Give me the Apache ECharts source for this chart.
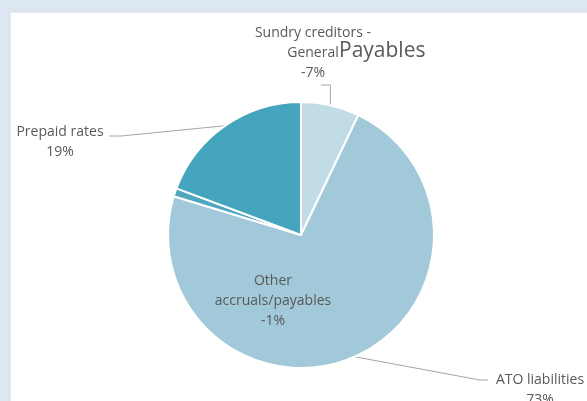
<!DOCTYPE html>
<html>
<head>
<meta charset="utf-8">
<script src="https://cdn.jsdelivr.net/npm/echarts@6/dist/echarts.min.js"></script>
<style>
html,body{margin:0;padding:0;background:#dde7f1;}
#c{width:587px;height:401px;}
</style>
</head>
<body>
<div id="c"></div>
<script>
// Data
const categories = ['Sundry creditors - General', 'ATO liabilities', 'Other accruals/payables', 'Prepaid rates'];
const labelNames = ['Sundry creditors -\nGeneral', 'ATO liabilities', 'Other\naccruals/payables', 'Prepaid rates'];
const values = [-7.1, 72.6, -1.0, 19.3];
const colors = ['#c2dce5', '#a2c9d9', '#4fa8c0', '#46a5be'];
const titleText = 'Payables';

const chart = echarts.init(document.getElementById('c'));
const FONT = '"Open Sans", "Noto Sans", sans-serif';
const TXT = '#595959';

// label placements (px) for each slice
const labelPos = [
  {x: 313, y: 53, line: [[null, 85], [321, 85]]},
  {x: 540, y: 390, line: [[480, 380], [488, 380]]},
  {x: 273, y: 301, line: null},
  {x: 60, y: 142, line: [[121, 136], [109, 136]]}
];

chart.setOption({
  backgroundColor: '#dde7f1',
  animation: false,
  graphic: [{
    type: 'rect', silent: true, z: -10,
    shape: {x: 10, y: 12, width: 600, height: 420},
    style: {fill: '#ffffff', stroke: '#d3dce6', lineWidth: 1}
  }],
  title: {
    text: titleText, left: 339, top: 41, padding: 0,
    textStyle: {fontFamily: FONT, fontSize: 21, fontWeight: 'normal', color: TXT}
  },
  series: [{
    type: 'pie',
    center: [301, 235],
    radius: 133,
    startAngle: 90,
    clockwise: true,
    avoidLabelOverlap: false,
    itemStyle: {borderColor: '#ffffff', borderWidth: 2},
    label: {
      show: true, position: 'outside',
      fontFamily: FONT, fontSize: 14, color: TXT, lineHeight: 20, align: 'center',
      formatter: function (p) {
        const v = values[p.dataIndex];
        return labelNames[p.dataIndex] + '\n' + (v < 0 ? '-' : '') + Math.round(p.percent) + '%';
      }
    },
    labelLine: {show: true, lineStyle: {color: '#a6a6a6', width: 1}, smooth: false},
    labelLayout: function (p) {
      const lp = labelPos[p.dataIndex];
      const res = {x: lp.x, y: lp.y, align: 'center', verticalAlign: 'middle', hideOverlap: false, moveOverlap: null};
      if (lp.line && p.labelLinePoints) {
        const a = p.labelLinePoints[0];
        const m = [lp.line[0][0] === null ? a[0] : lp.line[0][0], lp.line[0][1]];
        res.labelLinePoints = [a, m, lp.line[1]];
      }
      return res;
    },
    data: categories.map(function (c, i) {
      const d = {name: c, value: Math.abs(values[i]), itemStyle: {color: colors[i]}};
      if (i === 2) d.labelLine = {show: false};
      return d;
    })
  }]
});
</script>
</body>
</html>
